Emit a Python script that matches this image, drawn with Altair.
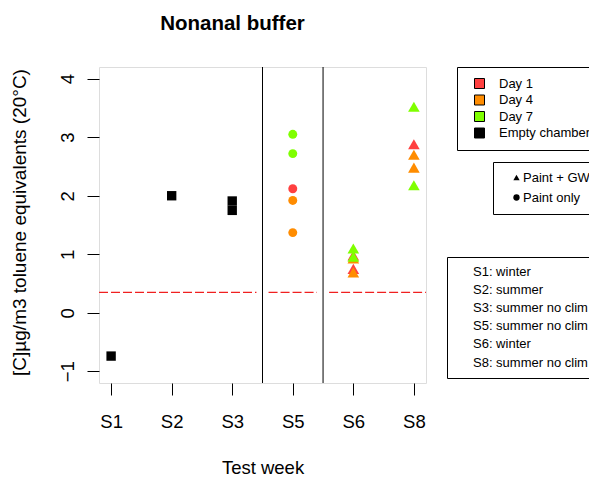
import json
import pandas as pd
import altair as alt

# ---------------- data ----------------
weeks = ["S1", "S2", "S3", "S5", "S6", "S8"]
week_desc = ["S1: winter", "S2: summer", "S3: summer no clim",
             "S5: summer no clim", "S6: winter", "S8: summer no clim"]

day_levels = ["Day 1", "Day 4", "Day 7", "Empty chamber"]
day_colors = ["#FF4040", "#FF8C00", "#7FFF00", "#000000"]
type_levels = ["Paint + GW", "Paint only"]

# Empty chamber (squares)
empty_week = ["S1", "S2", "S3", "S3"]
empty_val = [-0.74, 2.00, 1.91, 1.75]

# Paint only (circles)
ponly_week = ["S5", "S5", "S5", "S5", "S5"]
ponly_day = ["Day 1", "Day 4", "Day 4", "Day 7", "Day 7"]
ponly_val = [2.12, 1.92, 1.37, 3.05, 2.72]

# Paint + GW (triangles)
gw_week = ["S6", "S6", "S6", "S6", "S6", "S6", "S8", "S8", "S8", "S8", "S8"]
gw_day = ["Day 1", "Day 1", "Day 4", "Day 4", "Day 7", "Day 7",
          "Day 1", "Day 4", "Day 4", "Day 7", "Day 7"]
gw_val = [0.98, 0.75, 0.93, 0.69, 1.10, 0.96, 2.88, 2.70, 2.48, 3.52, 2.18]

threshold = [0.35, 0.35, 0.35]
seg_start = [0.8, 3.6, 4.6]
seg_end = [3.4, 4.4, 6.2]
dividers = [3.5, 4.5]

# ---------------- tables ----------------
pos_of = {w: i + 1 for i, w in enumerate(weeks)}
order = {d: i for i, d in enumerate(day_levels)}

empty = pd.DataFrame({"week": empty_week, "value": empty_val})
empty["day"] = "Empty chamber"
empty["pos"] = empty["week"].map(pos_of)

ponly = pd.DataFrame({"week": ponly_week, "day": ponly_day, "value": ponly_val})
ponly["paint"] = "Paint only"
gw = pd.DataFrame({"week": gw_week, "day": gw_day, "value": gw_val})
gw["paint"] = "Paint + GW"
for df in (ponly, gw):
    df["pos"] = df["week"].map(pos_of)
    df["ord"] = df["day"].map(order)
ponly = ponly.sort_values("ord", kind="stable")
gw = gw.sort_values("ord", kind="stable")

segs = pd.DataFrame({"x": seg_start, "x2": seg_end, "y": threshold})
divs = pd.DataFrame({"x": dividers})
descs = pd.DataFrame({"desc": week_desc})

FONT = "Liberation Sans"
label_expr = json.dumps(weeks) + "[datum.value - 1]"

xscale = alt.Scale(domain=[0.8, 6.2], nice=False, zero=False)
yscale = alt.Scale(domain=[-1.2, 4.2], nice=False, zero=False)

xaxis = alt.Axis(values=[1, 2, 3, 4, 5, 6], labelExpr=label_expr, title="Test week",
                 grid=False, domain=False, tickColor="black", tickSize=12, tickWidth=1,
                 labelFont=FONT, labelFontSize=18.5, labelColor="black",
                 labelBaseline="middle", labelPadding=26,
                 titleFont=FONT, titleFontSize=18.5, titleFontWeight="normal",
                 titleColor="black", titleY=90, titleBaseline="alphabetic")
yaxis = alt.Axis(values=[-1, 0, 1, 2, 3, 4], format="d",
                 title="[C]µg/m3 toluene equivalents (20°C)",
                 grid=False, domain=False, tickColor="black", tickSize=12, tickWidth=1,
                 labelFont=FONT, labelFontSize=18.5, labelColor="black",
                 labelAngle=270, labelAlign="center", labelBaseline="middle", labelPadding=20,
                 titleFont=FONT, titleFontSize=19, titleFontWeight="normal",
                 titleColor="black", titleX=-74, titleY=155, titleAlign="center",
                 titleBaseline="alphabetic")

color_enc = alt.Color("day:N", scale=alt.Scale(domain=day_levels, range=day_colors),
                      legend=alt.Legend(title=None, orient="none", legendX=358, legendY=0,
                                        strokeColor="black", fillColor="white", padding=10,
                                        symbolType="square", symbolSize=100, symbolOffset=6,
                                        symbolStrokeColor="black", symbolStrokeWidth=1,
                                        labelOffset=13, rowPadding=1.5,
                                        labelFont=FONT, labelFontSize=13, labelColor="black"))

shape_enc = alt.Shape("paint:N", scale=alt.Scale(domain=type_levels,
                                                 range=["triangle-up", "circle"]),
                      legend=alt.Legend(title=None, orient="none", legendX=394, legendY=95,
                                        strokeColor="black", fillColor="white", padding=9,
                                        symbolSize=40, symbolOffset=8,
                                        symbolFillColor="black", symbolStrokeColor="black",
                                        symbolStrokeWidth=0, symbolOpacity=1,
                                        labelOffset=0, rowPadding=6,
                                        labelFont=FONT, labelFontSize=13, labelColor="black"))

squares = alt.Chart(empty).mark_square(filled=True, size=88, opacity=1).encode(
    x=alt.X("pos:Q", scale=xscale, axis=xaxis),
    y=alt.Y("value:Q", scale=yscale, axis=yaxis),
    color=color_enc,
)

circles = alt.Chart(ponly).mark_point(filled=True, opacity=1, strokeWidth=0, size=80).encode(
    x=alt.X("pos:Q", scale=xscale),
    y=alt.Y("value:Q", scale=yscale),
    color=color_enc,
    shape=shape_enc,
)

triangles = alt.Chart(gw).mark_point(filled=True, opacity=1, strokeWidth=0, size=135).encode(
    x=alt.X("pos:Q", scale=xscale),
    y=alt.Y("value:Q", scale=yscale),
    color=color_enc,
    shape=shape_enc,
)

dash = alt.Chart(segs).mark_rule(color="#F02020", strokeWidth=1.2, strokeDash=[9, 3]).encode(
    x=alt.X("x:Q", scale=xscale), x2="x2:Q", y=alt.Y("y:Q", scale=yscale)
)

vlines = alt.Chart(divs).mark_rule(color="black", strokeWidth=1).encode(
    x=alt.X("x:Q", scale=xscale)
)

desc_legend = alt.Chart(descs).mark_point(opacity=0).encode(
    strokeDash=alt.StrokeDash("desc:N", scale=alt.Scale(domain=week_desc),
                              legend=alt.Legend(title=None, orient="none", legendX=348,
                                                legendY=190, strokeColor="black",
                                                fillColor="white", padding=8,
                                                symbolSize=0, symbolOpacity=0,
                                                symbolStrokeWidth=0,
                                                labelOffset=5, rowPadding=4.2,
                                                labelFont=FONT, labelFontSize=13,
                                                labelColor="black"))
)

chart = alt.layer(vlines, dash, squares, circles, triangles, desc_legend).properties(
    width=327, height=316,
    title=alt.TitleParams("Nonanal buffer", font=FONT, fontSize=20.5, fontWeight="bold",
                          color="black", anchor="middle", dx=-30, offset=32),
    padding={"left": 99, "top": 67, "right": 163, "bottom": 96},
    autosize=alt.AutoSizeParams(type="none"),
).configure_view(stroke="black", strokeWidth=1).configure(background="white")

chart.save("out.html", embed_options={"renderer": "svg", "actions": False})
